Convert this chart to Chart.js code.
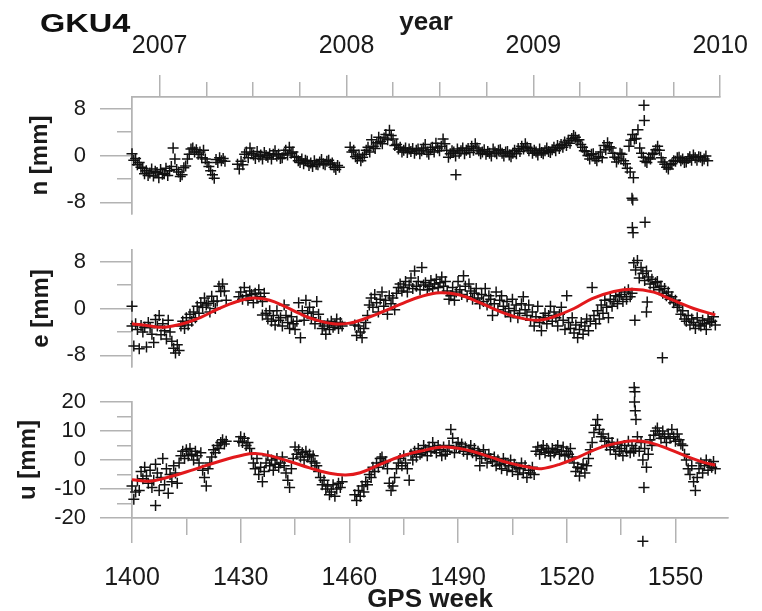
<!DOCTYPE html>
<html>
<head>
<meta charset="utf-8">
<script src="https://cdn.jsdelivr.net/npm/chart.js@4.4.0/dist/chart.umd.min.js"></script>
<style>
  html, body { margin: 0; padding: 0; background: #fff; overflow: hidden; }
  #wrap { position: relative; width: 762px; height: 611px; }
  #wrap canvas { position: absolute; left: 0; top: 0; }
  #station {
    position: absolute; left: 40px; top: 11px;
    font: bold 25px 'Liberation Sans', Arial, sans-serif; line-height: 1;
    transform: scaleX(1.3); transform-origin: left top; color: #111;
  }
</style>
</head>
<body>
<div id="wrap">
  <canvas id="panelN" width="762" height="611"></canvas>
  <canvas id="panelE" width="762" height="611"></canvas>
  <canvas id="panelU" width="762" height="611"></canvas>
  <canvas id="outN" width="762" height="611"></canvas>
  <canvas id="outU" width="762" height="611"></canvas>
  <div id="station">GKU4</div>
</div>
<script>
// ---- data ----
// samples every half GPS week starting at weekStart, null = no solution
const weekStart = 1400;
const weekMin = 1400, weekMax = 1564.5;
const yearMin = 2006.852, yearMax = 2010;

const weekTicks = [1400, 1430, 1460, 1490, 1520, 1550];
const weekMinorTicks = [1415, 1445, 1475, 1505, 1535];
const yearTicks = [2007, 2008, 2009, 2010];
const yearMinorTicks = [2007.25, 2007.5, 2007.75, 2008.25, 2008.5, 2008.75, 2009.25, 2009.5, 2009.75];
const neTicks = [-8, 0, 8];
const neMinorTicks = [-4, 4];
const uTicks = [-20, -10, 0, 10, 20];
const uMinorTicks = [-15, -5, 5, 15];

const nValues = [
  0.3, -0.8, -0.5, -1.6, -1.2, -2.0, -2.2, -3.1, -2.6, -3.4,
  -3.0, -2.3, -3.5, -2.7, -2.9, -3.8, -2.4, -3.2, -3.1, -2.2,
  -3.4, -2.6, -1.9, 1.3, -0.6, -2.4, -2.8, -3.6, -3.3, -2.1,
  -1.8, -0.6, 0.2, 1.1, 1.3, 0.6, 1.0, 0.2, 0.6, -0.4,
  0.9, -0.6, -1.2, -1.9, -2.6, -3.3, -3.9, -0.7, -1.2, -0.4,
  -0.9, -0.5, -1.0, null, null, null, null, null, null, -1.5,
  -2.3, -1.0, -1.6, 0.2, 0.6, -0.4, 1.3, 0.4, 0.1, -0.5,
  0.7, -0.2, 0.1, -0.6, 0.5, 0.0, -0.3, 0.3, -0.6, 0.2,
  0.8, -0.1, 0.2, -0.5, -0.4, 0.3, 0.9, 0.1, 1.4, 0.4,
  0.6, -0.3, -0.2, -0.9, -1.2, -0.6, -1.4, -0.8, -1.0, -1.7,
  -1.3, -1.9, -0.9, -1.5, -1.6, -1.1, -0.7, -1.4, -1.6, -1.0,
  -0.8, -1.5, -1.3, -2.0, -2.4, -1.7, -2.0, null, null, null,
  null, null, 1.4, 0.6, 0.9, -0.2, -0.5, 0.1, -0.9, -0.3,
  0.2, 0.9, 1.4, 0.6, 2.7, 1.6, 1.2, 2.2, 3.1, 2.4,
  2.0, 3.0, 3.6, 2.7, 4.3, 3.4, 2.8, 1.7, 1.9, 1.1,
  1.4, 0.6, 0.9, 1.3, 0.5, 1.1, 0.7, 1.2, 0.4, 0.9,
  1.1, 0.3, 0.8, 1.3, 1.9, 0.6, 0.2, 1.0, 1.4, 0.6,
  2.1, 1.3, 0.8, 1.6, 2.8, 2.0, 0.9, -0.3, 0.3, 0.8,
  0.6, -0.1, 1.1, 0.4, 0.8, 1.3, 0.3, 0.9, 1.2, 0.5,
  1.6, 0.9, 2.0, 1.3, 0.8, 0.3, 0.6, 1.0, 0.2, 0.7,
  0.4, -0.1, 1.1, 0.6, 0.3, 0.9, 1.0, 0.4, -0.1, 0.6,
  0.7, 0.1, -0.2, 0.4, 0.9, 0.3, 1.2, 0.7, 1.6, 1.1,
  2.0, 1.4, 0.8, 1.2, 0.4, 0.9, 0.6, 0.1, 1.1, 0.5,
  0.3, 0.8, 1.3, 0.7, 0.5, 1.0, 1.4, 0.8, 1.7, 1.2,
  1.9, 1.4, 2.3, 1.7, 2.6, 2.1, 2.9, 3.4, 3.1, 2.5,
  2.7, 1.9, 1.4, 0.8, 0.7, 0.0, -0.6, 0.2, 0.3, -0.5,
  -0.9, -0.2, 0.6, -0.4, 1.7, 1.0, 2.2, 1.5, 1.3, 0.4,
  -0.3, -1.1, -0.6, 0.4, 0.2, -0.9, -1.4, -2.2, 1.6, 2.6,
  3.6, 2.8, 2.9, 4.4, 1.3, 0.4, -0.3, -1.0, -1.2, -0.4,
  -0.6, 0.2, 0.4, 1.0, 1.6, 0.9, -0.4, -1.1, -1.5, -2.0,
  -2.3, -1.6, -1.4, -0.9, -1.0, -0.4, -0.3, -0.9, -0.6, -1.2,
  -1.1, -0.5, -0.2, -0.8, 0.1, -0.4, -0.8, -0.2, -0.3, -0.9,
  -0.6, -0.1, -0.9, null
];
const nOutlierWeeks = [1489.4, 1537.5, 1538.4, 1538.0, 1538.2, 1538.1, 1538.3, 1541.6, 1541.3, 1541.4];
const nOutlierValues = [-3.3, -2.8, -3.8, -7.3, -7.6, -12.3, -13.2, -11.4, 8.6, 6.0];

const eValues = [
  -3.0, -6.4, -2.6, -3.6, -6.9, -2.9, -4.0, -3.2, -6.6, -2.4,
  -3.3, -4.4, -5.8, -1.9, -3.0, -1.2, -4.5, -2.6, -3.8, -5.2,
  -2.0, -4.0, -5.6, -6.8, -7.6, -6.2, -7.2, -3.0, -2.2, -3.4,
  -1.6, -2.8, -1.0, -2.2, -0.6, -1.6, 0.4, -0.8, 1.0, 0.2,
  1.8, 0.6, 0.9, -0.6, 2.1, 1.2, 0.0, 1.3, 3.8, 2.9,
  4.2, 3.0, 1.4, null, null, null, null, null, null, 2.0,
  2.8, 1.6, 3.6, 2.2, 1.4, 3.0, 2.4, 1.0, 2.6, 1.8,
  3.2, 2.0, 1.2, 2.6, -0.8, -1.8, -0.4, -2.2, -1.2, -2.8,
  -0.4, -2.0, -1.6, -3.0, 0.6, -1.2, -2.4, -3.4, -1.4, -2.6,
  -3.6, -2.2, 1.0, -5.0, -0.4, -2.0, 1.4, -0.8, 0.2, -1.6,
  -0.6, -2.6, 1.2, -1.0, -2.2, -3.4, -3.0, -4.4, -2.6, -3.6,
  -2.2, -3.2, -2.8, -1.8, -3.4, -2.4, -3.0, null, null, null,
  null, null, null, -2.8, -4.6, -3.0, -4.0, -5.0, -3.4, -2.4,
  -1.2, 0.6, 1.8, 0.2, 2.4, 1.0, -0.6, 1.6, 2.8, 0.4,
  1.4, -1.0, 2.2, 0.8, 1.8, -0.2, 2.6, 3.6, 4.2, 3.0,
  3.6, 4.6, 2.8, 4.0, 5.2, 3.4, 6.4, 3.8, 4.6, 3.2,
  7.0, 4.0, 4.4, 3.2, 3.8, 4.8, 3.4, 4.2, 5.0, 3.6,
  4.4, 5.4, 3.8, 4.6, 3.0, 1.6, 2.2, 3.6, 1.4, 2.8,
  4.6, 3.2, 2.4, 5.6, 3.8, 2.0, 4.2, 3.0, 1.6, 2.6,
  3.4, 1.8, 0.8, 2.4, 1.2, 3.4, 0.6, 2.2, 1.6, -1.2,
  0.8, 2.8, -0.2, 1.4, 2.2, 0.4, -0.6, 1.2, 0.0, -1.4,
  1.6, -0.4, 0.6, -1.6, -0.8, 0.8, 2.0, -0.2, -1.2, 0.6,
  -2.0, -0.6, -3.0, -1.4, 0.4, -2.4, -3.8, -1.6, -0.8, -2.6,
  -1.2, 0.4, -2.2, -0.6, -1.6, -3.0, -1.0, 0.2, -2.0, -3.6,
  2.2, -2.4, -3.4, -1.6, -4.2, -2.8, -5.0, -3.6, -2.4, -4.4,
  -3.0, -1.8, -3.8, -2.2, 3.6, -1.2, -2.6, -0.4, -1.8, 0.6,
  -0.8, 1.4, 0.2, -1.6, 1.6, 0.4, 1.2, 2.2, 0.8, 2.0,
  2.4, 1.2, 2.8, 1.6, 3.2, 2.0, 2.6, 7.8, 6.6, 8.2,
  5.2, 7.0, 6.0, 4.8, 6.4, 5.4, 4.2, 5.0, 3.6, 4.4,
  4.6, 3.2, 3.8, 2.6, 3.4, 2.2, 2.8, 1.6, 2.0, 1.0,
  1.4, 0.2, 0.6, -1.0, -0.4, -1.8, -2.2, -1.2, -2.8, -1.8,
  -2.4, -3.4, -1.6, -2.8, -3.0, -2.0, -2.6, -3.6, -1.8, -2.4,
  -2.2, -1.4, -2.8, null
];
const eOutlierWeeks = [1400, 1436, 1538.8, 1542.0, 1542.2, 1546.4];
const eOutlierValues = [0.4, -1.1, -2.0, -0.6, 1.1, -8.4];
const eFitWeeks = [1400, 1405, 1409, 1414, 1419, 1424, 1429, 1433.5, 1438, 1442, 1446, 1450, 1455.5, 1460, 1464,
  1469, 1474, 1479.5, 1485, 1490.5, 1496, 1501.5, 1507, 1512, 1516, 1522, 1527, 1533, 1538, 1544, 1549, 1555, 1561];
const eFitValues = [-2.6, -3.0, -3.2, -2.6, -1.5, 0.0, 1.2, 1.8, 1.4, 0.4, -0.8, -1.8, -2.6, -2.5, -1.8,
  -0.6, 0.7, 2.0, 2.7, 2.3, 1.0, -0.5, -1.6, -2.0, -1.5, 0.0, 1.7, 2.9, 3.3, 2.8, 1.5, 0.0, -1.1];

const uValues = [
  -9.0, -13.5, -11.0, -7.0, -10.5, -4.0, -6.5, -2.5, -5.5, -8.0,
  -3.5, -9.5, -7.0, -1.5, -4.5, -10.5, -6.0, 0.5, -8.5, -3.0,
  -11.5, -5.0, -7.5, -2.0, -4.5, -8.0, -1.0, 1.5, 3.0, 0.5,
  3.5, 1.5, 4.0, 2.0, 0.0, 3.0, 1.5, -1.0, 2.5, -3.5,
  -6.0, -9.0, -3.0, -1.0, 1.0, 3.5, 2.5, 5.0, 4.0, 6.0,
  7.0, 5.5, 6.5, null, null, null, null, null, null, 6.5,
  8.0, 6.0, 7.5, 5.0, 6.0, 4.0, 2.0, -1.0, -3.0, 0.5,
  -5.0, -2.5, -7.5, -4.0, -1.0, 1.5, -2.0, 0.0, -3.5, -1.5,
  0.5, -2.5, -1.0, 1.0, -2.0, -4.5, -7.0, -9.5, -3.0, 0.5,
  4.5, 2.0, 3.5, 1.0, 2.5, 0.0, 3.0, 1.0, 2.0, -0.5,
  1.5, -1.0, -2.0, -4.0, -6.0, -8.5, -7.0, -10.0, -9.0, -12.0,
  -11.0, -8.5, -12.5, -10.0, -8.0, -9.5, -7.5, null, null, null,
  null, null, null, -12.0, -14.0, -10.5, -12.5, -9.0, -11.0, -7.5,
  -8.5, -5.0, -6.0, -2.5, -4.0, -1.0, -2.5, 0.5, 1.0, -1.0,
  -0.5, -3.0, -8.0, -10.5, -9.0, -6.0, -3.0, -1.0, 0.5, -2.0,
  1.5, -1.0, -3.0, -7.0, 2.0, 0.0, 3.0, 1.0, 4.0, 2.0,
  2.5, 5.0, 3.5, 1.5, 4.5, 3.0, 6.0, 4.0, 2.5, 5.0,
  3.5, 1.5, 4.5, 2.0, 3.0, 5.0, 10.5, 7.5, 2.5, 4.5,
  6.0, 4.0, 5.5, 3.0, 4.5, 2.0, 3.5, 5.0, 2.5, 4.0,
  1.5, 3.0, 2.0, 0.5, 3.5, 1.5, -1.0, 2.0, 0.5, -0.5,
  1.0, -2.0, 0.0, -1.5, -3.0, 0.5, -1.0, -3.5, -2.0, 0.0,
  -4.0, -1.5, -2.5, -5.0, -3.0, -1.0, -4.5, -2.0, -6.0, -3.5,
  -4.5, -2.5, -5.0, 3.0, 4.5, 2.0, 3.5, 5.0, 2.5, 4.0,
  3.0, 1.5, 4.0, 2.5, 3.5, 5.0, 2.0, 3.0, 4.5, 1.5,
  3.0, 2.0, 4.0, 1.0, -1.0, -4.0, -2.5, -5.5, -3.0, -1.5,
  -4.5, -2.0, 0.5, 3.5, 6.0, 9.5, 12.0, 14.0, 10.5, 8.0,
  9.0, 6.5, 5.0, 7.5, 3.5, 6.0, 4.5, 2.0, 5.5, 3.0,
  4.0, 1.5, 5.0, 3.0, 6.5, 2.5, 5.0, 3.0, 4.0, 8.0,
  3.0, 6.0, 0.0, 4.0, -2.5, 2.0, 7.0, 5.0, 8.5, 10.0,
  11.0, 9.0, 7.5, 10.0, 8.0, 6.0, 9.0, 7.5, 10.5, 8.0,
  6.5, 9.0, 7.0, 5.5, 5.0, 2.0, 0.0, -3.0, -5.0, -2.0,
  -7.5, -10.5, -6.0, -3.0, -1.0, -4.5, -2.0, 0.0, -3.5, -1.5,
  -2.5, -0.5, -3.0, null
];
const uOutlierWeeks = [1406.5, 1496, 1538.6, 1538.8, 1538.7, 1538.9, 1539.1, 1541.3, 1541.0];
const uOutlierValues = [-15.7, -2.0, 25.0, 23.5, 20.0, 17.0, 14.0, -9.5, -28.0];
const uFitWeeks = [1400, 1405, 1410.5, 1417, 1424, 1431, 1434, 1438, 1443.5, 1449, 1454.5, 1459, 1463, 1468.5,
  1474, 1479.5, 1486, 1493, 1499, 1504, 1510, 1513, 1518, 1523.5, 1529, 1534.5, 1538.5, 1543, 1548.5, 1554, 1558, 1561];
const uFitValues = [-6.8, -7.3, -5.8, -3.3, -0.5, 1.8, 2.2, 1.5, -0.5, -2.7, -4.6, -5.2, -4.4, -1.5,
  1.2, 3.0, 4.5, 3.3, 1.0, -1.0, -2.6, -3.0, -1.5, 1.2, 4.2, 6.0, 6.6, 6.0, 3.6, 0.8, -0.9, -1.8];

// ---- chart setup ----
Chart.defaults.font.family = "'Liberation Sans', Arial, sans-serif";
Chart.defaults.color = '#1a1a1a';

const axisGrey = '#b3b3b3';

function fixedTicks(list) {
  return scale => { scale.ticks = list.map(v => ({ value: v })); };
}

function samplePoints(values) {
  return values.map((v, i) => ({ x: weekStart + i / 2, y: v }));
}

function pairPoints(xs, ys) {
  return xs.map((x, i) => ({ x: x, y: ys[i] }));
}

function crossDataset(points) {
  return {
    data: points,
    pointStyle: 'cross',
    pointRadius: 5.5,
    pointBorderWidth: 1.5,
    pointBorderColor: '#111',
    showLine: false,
    clip: false
  };
}

function fitDataset(points) {
  return {
    data: points,
    showLine: true,
    borderColor: '#e2191c',
    borderWidth: 3,
    pointRadius: 0,
    tension: 0.4,
    fill: false,
    clip: false
  };
}

function yScales(range, major, minor, title, titlePad) {
  return {
    y: {
      type: 'linear', position: 'left', weight: 1, min: -range, max: range,
      afterBuildTicks: fixedTicks(major),
      afterFit: s => { s.width = 132; },
      grid: { drawOnChartArea: false, tickLength: 32, color: axisGrey, lineWidth: 1.5 },
      border: { color: axisGrey, width: 1.5 },
      ticks: { padding: 14, font: { size: 22 }, autoSkip: false, callback: v => String(v) },
      title: { display: true, text: title, font: { size: 24, weight: 'bold' }, padding: { top: titlePad, bottom: 0 } }
    },
    yMinor: {
      type: 'linear', position: 'left', weight: 0, min: -range, max: range,
      afterBuildTicks: fixedTicks(minor),
      afterFit: s => { s.width = 0; },
      grid: { drawOnChartArea: false, tickLength: 15, color: axisGrey, lineWidth: 1.5 },
      border: { color: axisGrey, width: 1.5 },
      ticks: { display: false }
    }
  };
}

function baseOptions(padding, scales) {
  return {
    responsive: false,
    animation: false,
    events: [],
    layout: { padding: padding },
    plugins: { legend: { display: false }, tooltip: { enabled: false } },
    scales: scales
  };
}

// outliers beyond the axis range go on a transparent overlay with a wider, hidden y scale
function overlay(id, yMin, yMax, padTop, padBottom, points) {
  return new Chart(document.getElementById(id), {
    type: 'scatter',
    data: { datasets: [crossDataset(points)] },
    options: baseOptions({ top: padTop, left: 132, right: 34, bottom: padBottom }, {
      x: { type: 'linear', display: false, min: weekMin, max: weekMax },
      y: { type: 'linear', display: false, min: yMin, max: yMax }
    })
  });
}

// north
const nScales = yScales(10, neTicks, neMinorTicks, 'n [mm]', 25.6);
nScales.x = { type: 'linear', display: false, min: weekMin, max: weekMax };
nScales.xTop = {
  type: 'linear', position: 'top', weight: 1, min: yearMin, max: yearMax,
  afterBuildTicks: fixedTicks(yearTicks),
  afterFit: s => { s.height = 97; },
  grid: { drawOnChartArea: false, tickLength: 22, color: axisGrey, lineWidth: 1.5 },
  border: { color: axisGrey, width: 1.5 },
  ticks: { padding: 14, font: { size: 25 }, maxRotation: 0, autoSkip: false, callback: v => String(v) },
  title: { display: true, text: 'year', font: { size: 26, weight: 'bold', lineHeight: 1 }, padding: { top: 10, bottom: 0 } }
};
nScales.xTopMinor = {
  type: 'linear', position: 'top', weight: 0, min: yearMin, max: yearMax,
  afterBuildTicks: fixedTicks(yearMinorTicks),
  afterFit: s => { s.height = 0; },
  grid: { drawOnChartArea: false, tickLength: 15, color: axisGrey, lineWidth: 1.5 },
  border: { color: axisGrey, width: 1.5 },
  ticks: { display: false }
};

new Chart(document.getElementById('panelN'), {
  type: 'scatter',
  data: { datasets: [crossDataset(samplePoints(nValues))] },
  options: baseOptions({ top: 0, left: 0, right: 34, bottom: 397 }, nScales)
});
// n axis: 97..214 px for -10..10 mm (5.85 px/mm); overlay spans -14..10
overlay('outN', -14, 10, 97, 373.6, pairPoints(nOutlierWeeks, nOutlierValues));

// east
const eScales = yScales(10, neTicks, neMinorTicks, 'e [mm]', 26.6);
eScales.x = { type: 'linear', display: false, min: weekMin, max: weekMax };

new Chart(document.getElementById('panelE'), {
  type: 'scatter',
  data: {
    datasets: [
      fitDataset(pairPoints(eFitWeeks, eFitValues)),
      crossDataset(samplePoints(eValues).concat(pairPoints(eOutlierWeeks, eOutlierValues)))
    ]
  },
  options: baseOptions({ top: 250, left: 0, right: 34, bottom: 244 }, eScales)
});

// up
const uScales = yScales(20, uTicks, uMinorTicks, 'u [mm]', 13.6);
uScales.x = {
  type: 'linear', position: 'bottom', weight: 1, min: weekMin, max: weekMax,
  afterBuildTicks: fixedTicks(weekTicks),
  afterFit: s => { s.height = 93; },
  grid: { drawOnChartArea: false, tickLength: 25, color: axisGrey, lineWidth: 1.5 },
  border: { color: axisGrey, width: 1.5 },
  ticks: { padding: 20, font: { size: 25 }, maxRotation: 0, autoSkip: false, callback: v => String(v) },
  title: { display: true, text: 'GPS week', font: { size: 26, weight: 'bold', lineHeight: 1 }, padding: { top: 0, bottom: -2 } }
};
uScales.xMinor = {
  type: 'linear', position: 'bottom', weight: 0, min: weekMin, max: weekMax,
  afterBuildTicks: fixedTicks(weekMinorTicks),
  afterFit: s => { s.height = 0; },
  grid: { drawOnChartArea: false, tickLength: 17, color: axisGrey, lineWidth: 1.5 },
  border: { color: axisGrey, width: 1.5 },
  ticks: { display: false }
};

new Chart(document.getElementById('panelU'), {
  type: 'scatter',
  data: {
    datasets: [
      fitDataset(pairPoints(uFitWeeks, uFitValues)),
      crossDataset(samplePoints(uValues))
    ]
  },
  options: baseOptions({ top: 402, left: 0, right: 34, bottom: 0 }, uScales)
});
// u axis: 402..518 px for -20..20 mm (2.9 px/mm); overlay spans -30..26
overlay('outU', -30, 26, 384.6, 64, pairPoints(uOutlierWeeks, uOutlierValues));
</script>
</body>
</html>
